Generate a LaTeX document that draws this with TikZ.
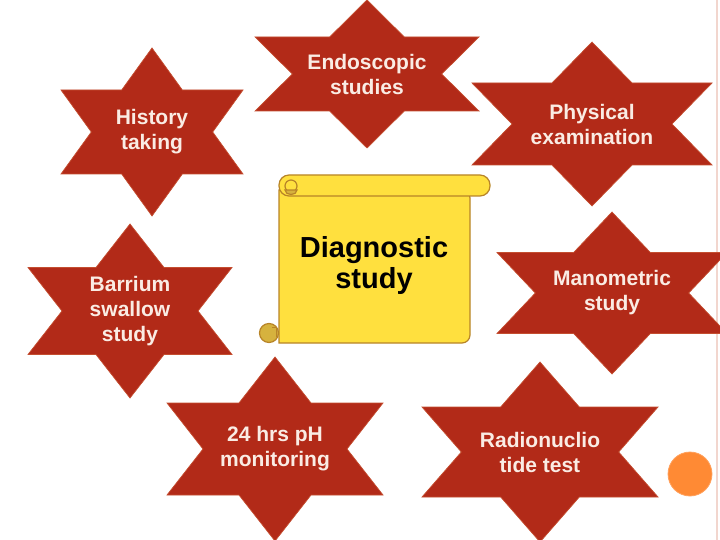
\documentclass[tikz,border=0pt]{standalone}
\usepackage{fontspec}
\setmainfont{Liberation Sans}

\definecolor{starred}{RGB}{178,42,24}
\definecolor{staredge}{RGB}{196,78,48}
\definecolor{startxt}{RGB}{250,236,228}
\definecolor{scrollyel}{RGB}{255,224,62}
\definecolor{scrollbrn}{RGB}{184,132,40}
\definecolor{curlyel}{RGB}{214,178,62}
\definecolor{dotorange}{RGB}{255,138,52}
\definecolor{edgepink}{RGB}{242,214,206}

\begin{document}
\begin{tikzpicture}[x=1pt, y=-1pt,
    hexstar/.style={fill=starred, draw=staredge, line width=0.7pt},
    startext/.style={text=startxt, font=\bfseries\fontsize{21}{25}\selectfont, align=center, inner sep=0pt},
    scroll/.style={fill=scrollyel, draw=scrollbrn, line width=1.2pt},
    curl/.style={fill=curlyel, draw=scrollbrn, line width=1.2pt},
    dotcirc/.style={circle, fill=dotorange, draw=dotorange!80!white, line width=0.8pt, minimum size=44pt, inner sep=0pt}]
  \useasboundingbox (0,0) rectangle (720,540);
  \draw[edgepink, line width=1.2pt] (717,0) -- (717,540);

  % six-pointed stars: name / centre / half width / half height / text
  \begin{scope}
    \clip (0,0) rectangle (720,540);
    \foreach \nm/\cx/\cy/\w/\r/\txt in {
        hist/152/132/91/84/{History\\taking},
        endo/367/74/112/74/{Endoscopic\\studies},
        phys/592/124/120/82/{Physical\\examination},
        barr/130/311/102/87/{Barrium\\swallow\\study},
        mano/612/293/115/81/{Manometric\\study},
        radio/540/452/118/90/{Radionuclio\\tide test},
        ph/275/449/108/92/{24 hrs pH\\monitoring}} {
      \filldraw[hexstar, shift={(\cx,\cy)}, xscale=\w, yscale=\r]
        (0,1) -- (1/3,0.5) -- (1,0.5) -- (2/3,0) -- (1,-0.5) -- (1/3,-0.5)
        -- (0,-1) -- (-1/3,-0.5) -- (-1,-0.5) -- (-2/3,0) -- (-1,0.5) -- (-1/3,0.5) -- cycle;
      \node[startext] (\nm) at (\cx,\cy) {\txt};
    }
  \end{scope}

  % scroll in the middle
  \filldraw[scroll] (279,190) -- (279,343) [rounded corners=8] -- (470,343) -- (470,190) [sharp corners] -- cycle;
  \filldraw[scroll, rounded corners=10] (279,175) rectangle (490,196);
  \draw[scrollbrn, line width=1.2pt] (291,186) circle (6);
  \filldraw[curl] (285,190) .. controls (285,196) and (297,196) .. (297,190) -- cycle;
  \filldraw[curl] (269,333) circle (9.5);
  \draw[scrollbrn, line width=1pt] (272,327) -- (276,327) -- (276,337);
  \node[font=\bfseries\fontsize{29}{31}\selectfont, align=center, inner sep=0pt] (diag) at (374,266) {Diagnostic\\study};

  \node[dotcirc] (dot) at (690,474) {};
\end{tikzpicture}
\end{document}
